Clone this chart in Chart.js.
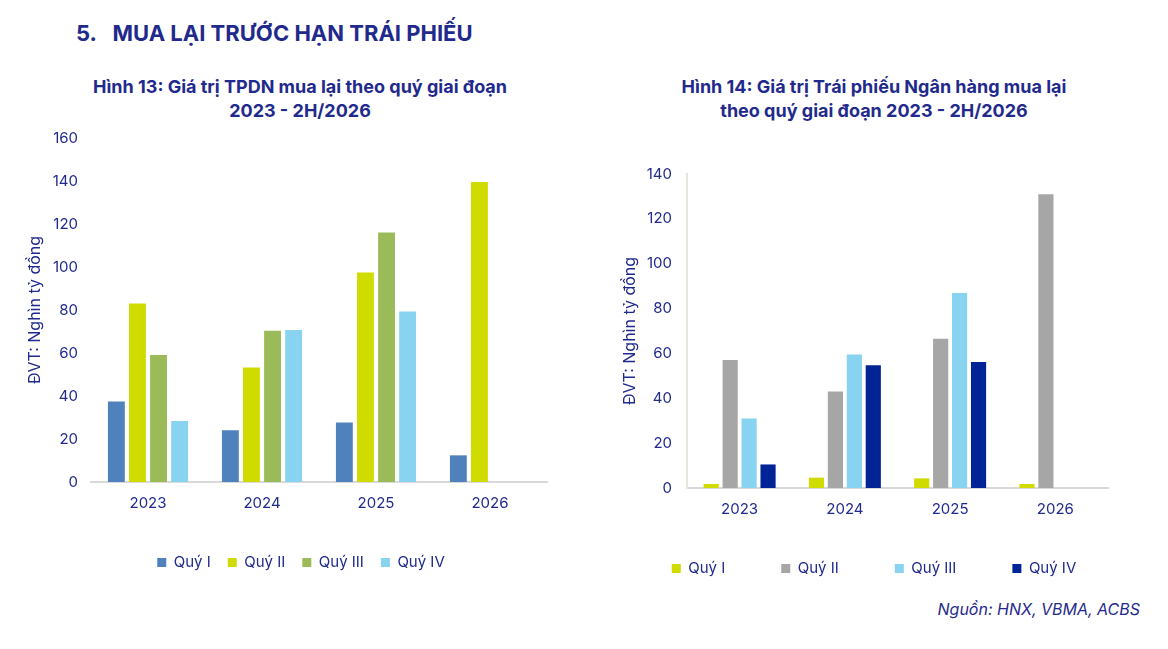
<!DOCTYPE html>
<html>
<head>
<meta charset="utf-8">
<script src="https://cdn.jsdelivr.net/npm/chart.js@4.4.1/dist/chart.umd.min.js"></script>
<style>
  body { margin: 0; background: #ffffff; width: 1168px; height: 649px; overflow: hidden; position: relative; font-family: Inter, sans-serif; color: #1f2a8c; }
  .h { position: absolute; font-weight: bold; }
  .t { position: absolute; font-weight: bold; text-align: center; font-size: 18px; line-height: 24px; }
  canvas { position: absolute; }
</style>
</head>
<body>
<div class="h" style="left:76px; top:20px; font-size:22px;">5.&nbsp;&nbsp;&nbsp;MUA LẠI TRƯỚC HẠN TRÁI PHIẾU</div>
<div class="t" style="left:40px; top:75px; width:520px;">Hình 13: Giá trị TPDN mua lại theo quý giai đoạn<br>2023 - 2H/2026</div>
<div class="t" style="left:614px; top:75px; width:520px;">Hình 14: Giá trị Trái phiếu Ngân hàng mua lại<br>theo quý giai đoạn 2023 - 2H/2026</div>
<div style="position:absolute; right:28px; top:599px; font-style:italic; font-size:16px;">Nguồn: HNX, VBMA, ACBS</div>
<canvas id="chart0" style="left:0px; top:116px;"></canvas>
<canvas id="chart1" style="left:590px; top:150px;"></canvas>
<script>
// categories and series
let years = ['2023', '2024', '2025', '2026'];
let quarters = ['Quý I', 'Quý II', 'Quý III', 'Quý IV'];
let yTitle = 'ĐVT: Nghìn tỷ đồng';

// Hinh 13: TPDN
let tpdnQ1 = [37.5, 24.1, 27.7, 12.4];
let tpdnQ2 = [83.0, 53.2, 97.5, 139.5];
let tpdnQ3 = [59.1, 70.4, 116.1, null];
let tpdnQ4 = [28.4, 70.7, 79.3, null];
let tpdnColors = ['#4f81bd', '#d0db00', '#9bbb59', '#87d3f0'];

// Hinh 14: Ngan hang
let bankQ1 = [1.8, 4.6, 4.3, 1.8];
let bankQ2 = [57.1, 43.0, 66.6, 131.0];
let bankQ3 = [31.0, 59.5, 86.9, null];
let bankQ4 = [10.5, 54.7, 56.2, null];
let bankColors = ['#d0db00', '#a6a6a6', '#87d3f0', '#002395'];

const navy = '#1f2a8c';
const font = 'Inter';

// {{{ makeChart()
function makeChart(id, w, h, series, colors, yMax, opts)
{
  const el = document.getElementById(id);
  el.width = w;
  el.height = h;
  el.style.width = w + 'px';
  el.style.height = h + 'px';
  let data = {labels: years, datasets: []};
  for (let i = 0; i < series.length; i++)
  {
    data.datasets.push({label: quarters[i], data: series[i], backgroundColor: colors[i], borderWidth: 0, categoryPercentage: opts.cat, barPercentage: 0.8});
  }
  return new Chart(el,
  {
    type: 'bar',
    data: data,
    options:
    {
      responsive: false,
      animation: false,
      devicePixelRatio: 1,
      layout: {padding: {left: 0, right: 0, top: opts.padTop, bottom: 0}},
      plugins:
      {
        tooltip: {enabled: false},
        legend:
        {
          position: 'bottom',
          labels: {color: navy, font: {family: font, size: 15}, boxWidth: 9, boxHeight: 9, padding: opts.legendPad},
          // empty title, its negative padding pulls the wide-spaced row up
          title: {display: opts.legendLift != 0, text: '', font: {size: 10}, padding: {top: -12 - opts.legendLift, bottom: 0}}
        }
      },
      scales:
      {
        x:
        {
          grid: {display: false, drawTicks: false},
          border: {display: true, color: '#d9d9d9', width: 2},
          ticks: {color: navy, font: {family: font, size: 15}, padding: 12},
          afterFit: (scale) => { scale.height = opts.xHeight; }
        },
        y:
        {
          min: 0,
          max: yMax,
          grid: {display: false, drawTicks: false},
          border: {display: opts.yBorder, color: '#e6e6dc', width: 2},
          ticks: {stepSize: 20, color: navy, font: {family: font, size: 15}, padding: opts.tickPad},
          title: {display: true, text: yTitle, color: navy, font: {family: font, size: 16}, padding: {top: opts.titlePad, bottom: 0}},
          afterFit: (scale) => { scale.width = opts.yWidth; }
        },
        // empty right axis, only keeps the plot area narrower than the legend row
        yr:
        {
          type: 'linear',
          position: 'right',
          grid: {display: false, drawTicks: false},
          border: {display: false},
          ticks: {display: false},
          afterFit: (scale) => { scale.width = opts.rightWidth; }
        }
      }
    }
  });
}
// }}}

makeChart('chart0', 602, 464, [tpdnQ1, tpdnQ2, tpdnQ3, tpdnQ4], tpdnColors, 160,
  {cat: 0.74, padTop: 3, legendPad: 17, legendLift: 0, xHeight: 56, yWidth: 91, rightWidth: 55, tickPad: 13, titlePad: 26, yBorder: false});
makeChart('chart1', 568, 436, [bankQ1, bankQ2, bankQ3, bankQ4], bankColors, 140,
  {cat: 0.72, padTop: 0, legendPad: 56, legendLift: 19, xHeight: 36, yWidth: 97, rightWidth: 50, tickPad: 15, titlePad: 31, yBorder: true});
</script>
</body>
</html>
